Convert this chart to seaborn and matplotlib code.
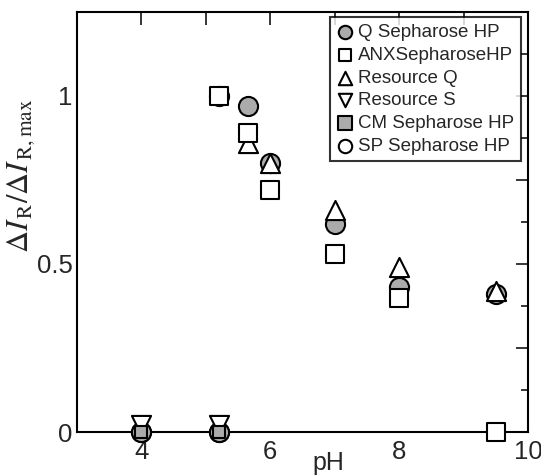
import numpy as np
import pandas as pd
import matplotlib
matplotlib.use("Agg")
import matplotlib.pyplot as plt
import seaborn as sns
from matplotlib.ticker import FuncFormatter, MultipleLocator

sns.set_style("white")
plt.rcParams['font.family'] = ['Liberation Sans', 'DejaVu Sans']
plt.rcParams['mathtext.fontset'] = 'stix'

series_names = ["Q Sepharose HP", "ANXSepharoseHP", "Resource Q",
                "Resource S", "CM Sepharose HP", "SP Sepharose HP"]

q_ph = [4.0, 5.2, 5.65, 6.0, 7.0, 8.0, 9.5]
q_val = [0.0, 0.0, 0.97, 0.80, 0.62, 0.43, 0.41]

anx_ph = [5.2, 5.65, 6.0, 7.0, 8.0, 9.5]
anx_val = [1.0, 0.89, 0.72, 0.53, 0.40, 0.0]

rq_ph = [5.65, 6.0, 7.0, 8.0, 9.5]
rq_val = [0.86, 0.80, 0.66, 0.49, 0.42]

rs_ph = [4.0, 5.2]
rs_val = [0.02, 0.02]

cm_ph = [4.0, 5.2]
cm_val = [0.0, 0.0]

sp_ph = [4.0, 5.2, 5.2]
sp_val = [0.0, 0.0, 1.0]

data = {
    "Q Sepharose HP": (q_ph, q_val),
    "ANXSepharoseHP": (anx_ph, anx_val),
    "Resource Q": (rq_ph, rq_val),
    "Resource S": (rs_ph, rs_val),
    "CM Sepharose HP": (cm_ph, cm_val),
    "SP Sepharose HP": (sp_ph, sp_val),
}

hatch_grey = "#ababab"
styles = {
    "Q Sepharose HP": dict(marker="o", fc=hatch_grey, s=190),
    "ANXSepharoseHP": dict(marker="s", fc="white", s=165),
    "Resource Q": dict(marker="^", fc="white", s=190),
    "Resource S": dict(marker="v", fc="white", s=190),
    "CM Sepharose HP": dict(marker="s", fc=hatch_grey, s=80),
    "SP Sepharose HP": dict(marker="o", fc="white", s=190),
}

draw_order = ["SP Sepharose HP", "Q Sepharose HP", "Resource Q", "ANXSepharoseHP",
              "Resource S", "CM Sepharose HP"]

fig = plt.figure(figsize=(5.41, 4.76), dpi=100)
ax = fig.add_axes([0.1423, 0.0924, 0.8337, 0.8826])

for i, name in enumerate(draw_order):
    ph, val = data[name]
    df = pd.DataFrame({"pH": ph, "v": val})
    st = styles[name]
    sns.scatterplot(data=df, x="pH", y="v", ax=ax, marker=st["marker"], s=st["s"],
                    color=st["fc"], edgecolor="black", linewidth=1.5,
                    zorder=3 + i, label=name, clip_on=False)

h, l = ax.get_legend_handles_labels()
hm = dict(zip(l, h))
leg = ax.legend([hm[n] for n in series_names], series_names, loc="upper right",
                bbox_to_anchor=(0.993, 0.996), frameon=True, fancybox=False,
                edgecolor="black", fontsize=13.5, handletextpad=0.25,
                labelspacing=0.3, borderpad=0.35, handlelength=0.9,
                markerscale=0.7, borderaxespad=0.2)
leg.get_frame().set_linewidth(1.5)
leg.set_zorder(20)
# CM handle should look as large as the others in the legend
leg.legend_handles[4].set_sizes([110])

ax.set_xlim(3, 10)
ax.set_ylim(0, 1.25)

ax.xaxis.set_major_locator(MultipleLocator(1))
ax.xaxis.set_major_formatter(FuncFormatter(
    lambda v, p: f"{int(round(v))}" if int(round(v)) in (4, 6, 8, 10) else ""))
ax.yaxis.set_major_locator(MultipleLocator(0.25))
ax.yaxis.set_minor_locator(MultipleLocator(0.125))
ylab = {0.0: "0", 0.5: "0.5", 1.0: "1"}
ax.yaxis.set_major_formatter(FuncFormatter(lambda v, p: ylab.get(round(v, 3), "")))

ax.tick_params(axis="both", which="major", direction="in", length=9, width=1.3,
               labelsize=18.5, top=True, right=True)
ax.tick_params(axis="x", which="major", pad=6)
ax.tick_params(axis="y", which="major", pad=3)
ax.tick_params(axis="both", which="minor", direction="in", length=5, width=1.3,
               top=True, right=True)
for sp in ax.spines.values():
    sp.set_linewidth(1.5)
    sp.set_color("black")

ax.set_xlabel("pH", fontsize=18)
ax.xaxis.set_label_coords(0.557, -0.045)
ax.set_ylabel(r"$\Delta I_{\,\mathrm{R}}/\Delta I_{\,\mathrm{R,max}}$", fontsize=22)
ax.yaxis.set_label_coords(-0.088, 0.61)

fig.savefig("out.png", dpi=100)
